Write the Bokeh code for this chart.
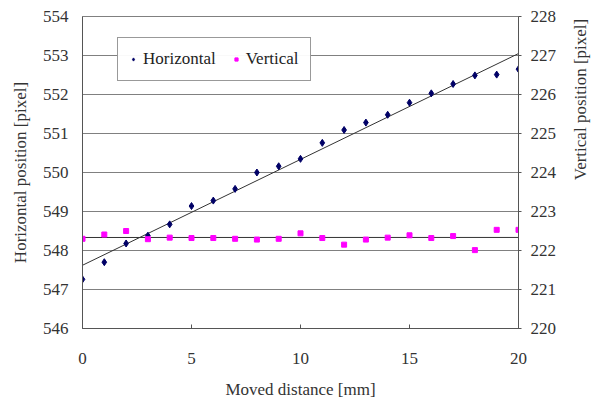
import math
import numpy as np
from bokeh.plotting import figure
from bokeh.layouts import row
from bokeh.models import Range1d, LinearAxis, FixedTicker, Legend, LegendItem, ColumnDataSource, Label
from bokeh.embed import file_html
from bokeh.resources import INLINE

distance = list(range(0, 21))
horizontal = [547.26, 547.70, 548.18, 548.38, 548.67, 549.14, 549.28, 549.58, 550.00, 550.16,
              550.35, 550.76, 551.09, 551.28, 551.48, 551.79, 552.03, 552.27, 552.49, 552.51, 552.65]
vertical = [222.30, 222.41, 222.50, 222.29, 222.33, 222.32, 222.32, 222.30, 222.28, 222.30,
            222.44, 222.32, 222.15, 222.28, 222.33, 222.39, 222.32, 222.37, 222.01, 222.53, 222.53]
x_ticks = [0, 5, 10, 15, 20]
left_ticks = list(range(546, 555))
right_ticks = list(range(220, 229))

FONT = "Liberation Serif"

p = figure(output_backend="svg", toolbar_location=None,
           x_range=Range1d(0, 20), y_range=Range1d(546, 554),
           min_border_left=82, min_border_right=45, min_border_top=16, min_border_bottom=70,
           frame_width=436, frame_height=312)
p.extra_y_ranges = {"v": Range1d(220, 228)}

# trend lines (linear fits, like spreadsheet trendlines)
xs = np.array(distance, dtype=float)
hc = np.polyfit(xs, np.array(horizontal), 1)
vc = np.polyfit(xs, np.array(vertical), 1)
xe = [xs[0], xs[-1]]
p.line(xe, list(np.polyval(hc, xe)), line_color="#333333", line_width=1)
p.line(xe, list(np.polyval(vc, xe)), line_color="#333333", line_width=1, y_range_name="v")

src = ColumnDataSource(dict(x=distance, h=horizontal, v=vertical))
rh = p.scatter("x", "h", source=src, marker="diamond", size=7, fill_color="#000066", line_color="#000066")
rv = p.scatter("x", "v", source=src, marker="square", size=5, fill_color="#FF00FF", line_color="#FF00FF",
               y_range_name="v")

# grid / outline
p.xgrid.visible = False
p.ygrid.ticker = FixedTicker(ticks=left_ticks)
p.ygrid.grid_line_color = "#808080"
p.ygrid.grid_line_width = 1
p.outline_line_color = "#808080"
p.background_fill_color = "white"
p.border_fill_color = "white"

# x axis
xa = p.xaxis[0]
xa.ticker = FixedTicker(ticks=x_ticks)
xa.axis_label = "Moved distance [mm]"
xa.major_tick_in = 4
xa.major_tick_out = 0
xa.minor_tick_line_color = None
xa.major_label_standoff = 24
xa.axis_label_standoff = 13

# left axis
ya = p.yaxis[0]
ya.ticker = FixedTicker(ticks=left_ticks)
ya.axis_label = "Horizontal position [pixel]"
ya.major_tick_in = 0
ya.major_tick_out = 0
ya.minor_tick_line_color = None
ya.major_label_standoff = 14
ya.axis_label_standoff = 10

# right axis
ra = LinearAxis(y_range_name="v", ticker=FixedTicker(ticks=right_ticks))
ra.major_tick_in = 0
ra.major_tick_out = 3
ra.minor_tick_line_color = None
ra.major_label_standoff = 9
p.add_layout(ra, "right")

for ax in [xa, ya, ra]:
    ax.axis_line_color = "#555555"
    ax.major_tick_line_color = "#555555"
    ax.major_label_text_font = FONT
    ax.major_label_text_font_size = "17px"
    ax.major_label_text_color = "#333333"
    ax.axis_label_text_font = FONT
    ax.axis_label_text_font_size = "17px"
    ax.axis_label_text_font_style = "normal"
    ax.axis_label_text_color = "#333333"

legend = Legend(items=[LegendItem(label="Horizontal", renderers=[rh]),
                       LegendItem(label="Vertical", renderers=[rv])],
                orientation="horizontal", location=(35, 247),
                label_text_font=FONT, label_text_font_size="17px", label_text_color="#222222",
                border_line_color="#333333", border_line_width=1,
                glyph_width=8, spacing=16, padding=11, margin=0, label_standoff=6)
p.add_layout(legend, "center")

# narrow strip holding the right axis title, reading bottom to top as in the original
p2 = figure(width=30, height=398, output_backend="svg", toolbar_location=None,
            x_range=Range1d(0, 1), y_range=Range1d(0, 1), min_border=0)
p2.axis.visible = False
p2.grid.visible = False
p2.outline_line_color = None
p2.background_fill_color = "white"
p2.border_fill_color = "white"
p2.add_layout(Label(x=17, y=226, x_units="screen", y_units="screen", angle=math.pi / 2,
                    text="Vertical position [pixel]", text_font=FONT, text_font_size="17px",
                    text_color="#333333", text_align="center", text_baseline="middle"))

layout = row(p, p2, spacing=0)
open("out.html", "w").write(file_html(layout, INLINE))
